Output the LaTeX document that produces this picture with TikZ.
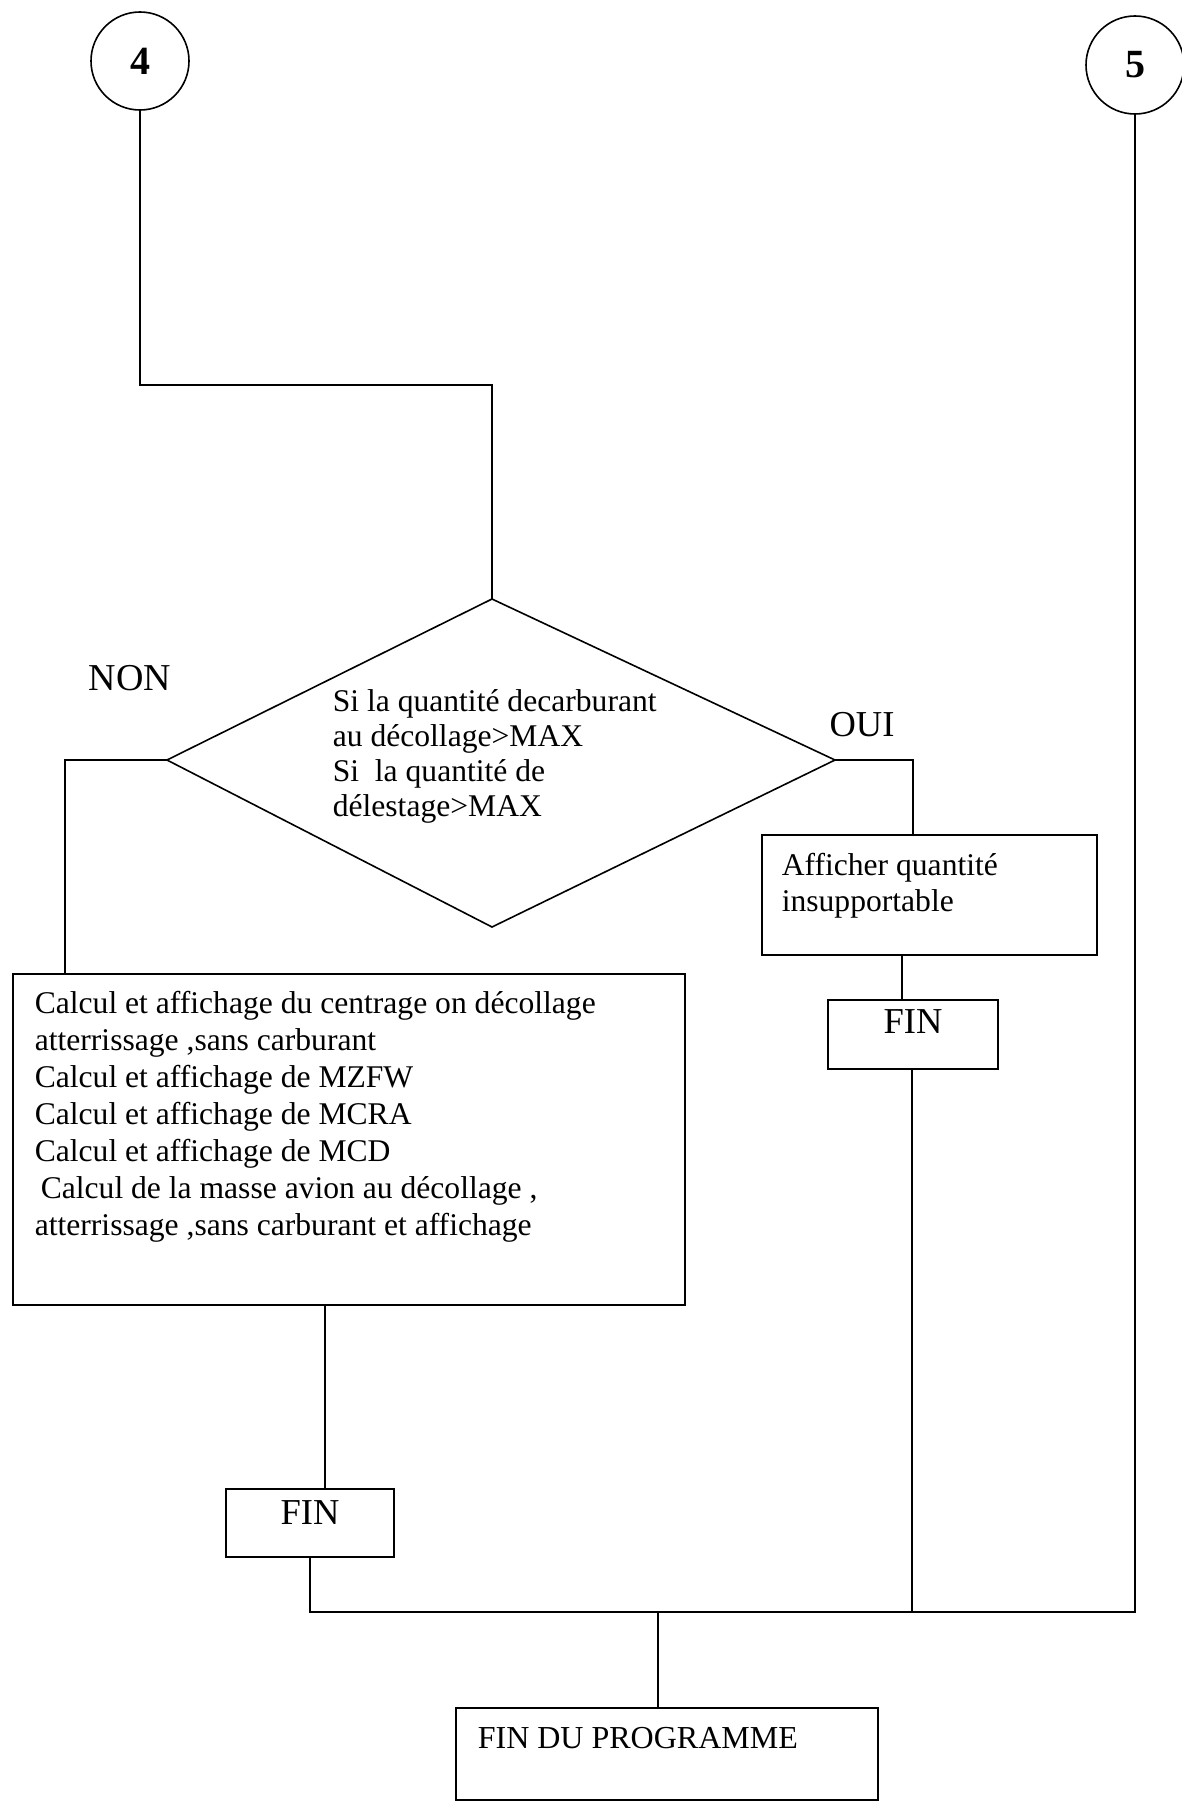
\documentclass[tikz,border=0pt]{standalone}
\usepackage{fontspec}
\setmainfont{Liberation Serif}
\begin{document}
\begin{tikzpicture}[x=1pt,y=-1pt,line width=1.6pt,
  box/.style={draw,rectangle,inner sep=0pt},
  conn/.style={draw,circle,inner sep=0pt,minimum size=98pt,font=\fontsize{40}{46}\selectfont\bfseries},
  txt/.style={inner sep=0pt,align=left,anchor=north west,font=\fontsize{31.6}{37}\selectfont},
  lbl/.style={inner sep=0pt,anchor=base,font=\fontsize{36.5}{40}\selectfont}]
\useasboundingbox (0,0) rectangle (1181,1801);
% circles
\node[conn] (c4) at (140,61) {4};
\node[conn] (c5) at (1135,65) {5};
% diamond
\coordinate (dT) at (492,599);
\coordinate (dL) at (167,760);
\coordinate (dR) at (835,760);
\coordinate (dB) at (492,927);
\draw (dT) -- (dR) -- (dB) -- (dL) -- cycle;
\node[txt,font=\fontsize{31.6}{35}\selectfont] (dt) at (332,689) {Si la quantité decarburant\\au décollage>MAX\\Si~ la quantité de\\délestage>MAX};
\node[lbl,font=\fontsize{38}{40}\selectfont] (non) at (130,690) {NON};
\node[lbl] (oui) at (862,736) {OUI};
% boxes
\node[box,minimum width=672pt,minimum height=331pt] (big) at (349,1139.5) {};
\node[txt] (bigt) at (34,990) {Calcul et affichage du centrage on décollage\\atterrissage ,sans carburant\\Calcul et affichage de MZFW\\Calcul et affichage de MCRA\\Calcul et affichage de MCD\\\hspace*{6pt}Calcul de la masse avion au décollage ,\\atterrissage ,sans carburant et affichage};
\node[box,minimum width=335pt,minimum height=120pt] (aff) at (929.5,895) {};
\node[txt,font=\fontsize{31.6}{36}\selectfont] (afft) at (781,852) {Afficher quantité\\insupportable};
\node[box,minimum width=170pt,minimum height=69pt] (finr) at (913,1034.5) {};
\node[lbl] (finrt) at (913,1033) {FIN};
\node[box,minimum width=168pt,minimum height=68pt] (finl) at (310,1523) {};
\node[lbl] (finlt) at (310,1524) {FIN};
\node[box,minimum width=422pt,minimum height=92pt] (prog) at (667,1754) {};
\node[txt,anchor=base west,font=\fontsize{32}{37}\selectfont] (progt) at (477,1748) {FIN DU PROGRAMME};
% connector coordinates
\coordinate (k1) at (140,385);
\coordinate (k2) at (492,385);
\coordinate (bigin) at (65,974);
\coordinate (affin) at (913,835);
\coordinate (affout) at (902,955);
\coordinate (finrin) at (902,1000);
\coordinate (finrout) at (912,1069);
\coordinate (bigout) at (325,1305);
\coordinate (finlin) at (325,1489);
\coordinate (jl) at (310,1612);
\coordinate (jr) at (1135,1612);
\coordinate (jm) at (658,1612);
\coordinate (jf) at (912,1612);
\coordinate (progin) at (658,1708);
% connectors
\draw (c4.south) -- (k1) -- (k2) -- (dT);
\draw (dL) -| (bigin);
\draw (dR) -| (affin);
\draw (affout) -- (finrin);
\draw (finrout) -- (jf);
\draw (bigout) -- (finlin);
\draw (finl.south) -- (jl) -- (jr) -- (c5.south);
\draw (jm) -- (progin);
\end{tikzpicture}
\end{document}
